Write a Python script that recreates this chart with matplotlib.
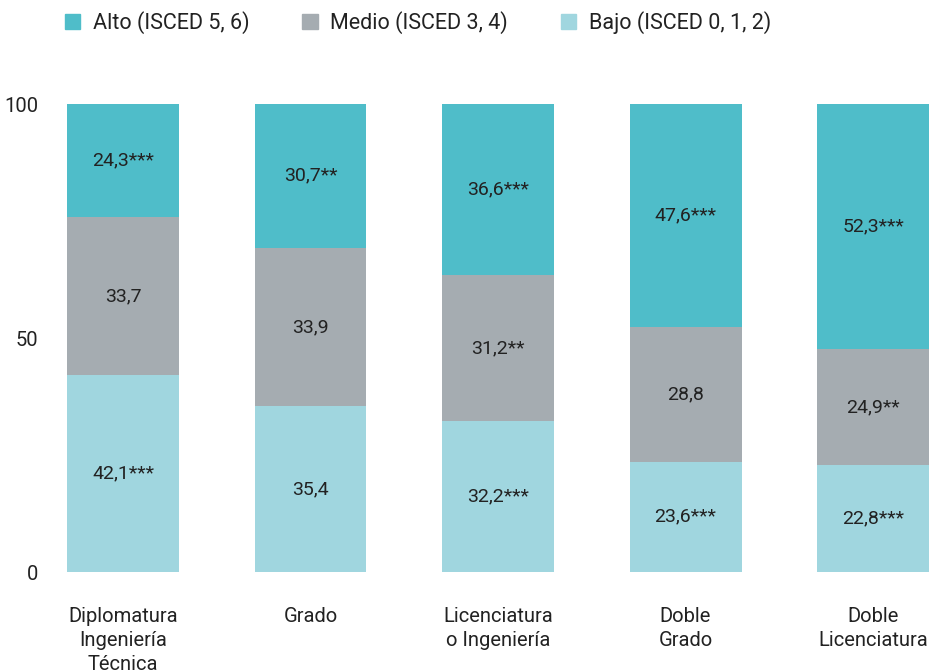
import numpy as np
import matplotlib
matplotlib.use("Agg")
import matplotlib.pyplot as plt
from matplotlib.patches import Patch

plt.rcParams['font.family'] = ['Roboto', 'DejaVu Sans']

# Data
categories = ["Diplomatura\nIngeniería\nTécnica", "Grado", "Licenciatura\no Ingeniería",
              "Doble\nGrado", "Doble\nLicenciatura"]
bajo = [42.1, 35.4, 32.2, 23.6, 22.8]
medio = [33.7, 33.9, 31.2, 28.8, 24.9]
alto = [24.3, 30.7, 36.6, 47.6, 52.3]
bajo_lbl = ["42,1***", "35,4", "32,2***", "23,6***", "22,8***"]
medio_lbl = ["33,7", "33,9", "31,2**", "28,8", "24,9**"]
alto_lbl = ["24,3***", "30,7**", "36,6***", "47,6***", "52,3***"]

c_alto = "#4fbdc9"
c_medio = "#a5acb1"
c_bajo = "#a0d6df"
txt = "#222222"

fig = plt.figure(figsize=(9.34, 6.72), dpi=100)
ax = fig.add_axes([45 / 934, 100 / 672, 889 / 934, 468 / 672])

x = np.arange(len(categories))
w = 0.597
b1 = ax.bar(x, bajo, w, color=c_bajo)
b2 = ax.bar(x, medio, w, bottom=bajo, color=c_medio)
bot3 = np.array(bajo) + np.array(medio)
b3 = ax.bar(x, alto, w, bottom=bot3, color=c_alto)

for bars, labels in [(b1, bajo_lbl), (b2, medio_lbl), (b3, alto_lbl)]:
    ax.bar_label(bars, labels=labels, label_type="center", fontsize=14, color=txt)

ax.set_xlim(-0.416, 4.325)
ax.set_ylim(0, 100)
ax.set_yticks([0, 50, 100])
ax.set_xticks(x)
ax.set_xticklabels(categories, fontsize=14.5, color=txt, linespacing=1.33, va="top")
ax.tick_params(axis="y", length=0, pad=5, labelsize=14.5, labelcolor=txt)
ax.tick_params(axis="x", length=0, pad=25)
for s in ax.spines.values():
    s.set_visible(False)

handles = [Patch(color=c_alto, label="Alto (ISCED 5, 6)"),
           Patch(color=c_medio, label="Medio (ISCED 3, 4)"),
           Patch(color=c_bajo, label="Bajo (ISCED 0, 1, 2)")]
leg = fig.legend(handles=handles, loc="upper left", bbox_to_anchor=(0.049, 1.012), ncol=3,
                 frameon=False, fontsize=15.5, handlelength=0.7, handleheight=0.7,
                 handletextpad=0.6, columnspacing=2.45)
for t in leg.get_texts():
    t.set_color(txt)

fig.savefig("out.png", dpi=100)
